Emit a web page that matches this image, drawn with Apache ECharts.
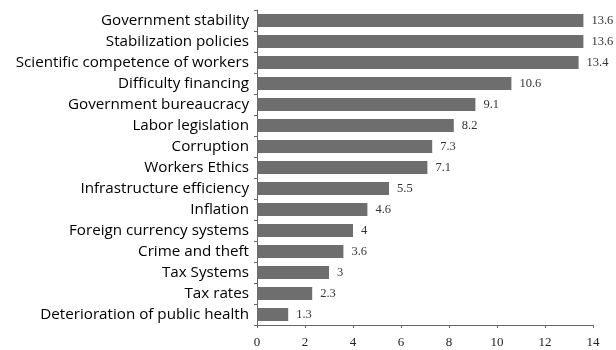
<!DOCTYPE html>
<html><head><meta charset="utf-8">
<script src="https://cdn.jsdelivr.net/npm/echarts@6/dist/echarts.min.js"></script>
<style>html,body{margin:0;padding:0;background:#fff}#c{width:616px;height:350px}</style>
</head><body><div id="c"></div>
<script>
const categories = ["Government stability","Stabilization policies","Scientific competence of workers","Difficulty financing","Government bureaucracy","Labor legislation","Corruption","Workers Ethics","Infrastructure efficiency","Inflation","Foreign currency systems","Crime and theft","Tax Systems","Tax rates","Deterioration of public health"];
const values = [13.6,13.6,13.4,10.6,9.1,8.2,7.3,7.1,5.5,4.6,4,3.6,3,2.3,1.3];
const xTicks = [0,2,4,6,8,10,12,14];

const chart = echarts.init(document.getElementById('c'));
chart.setOption({
  animation:false,
  grid:{left:257,right:23,top:10,bottom:25,containLabel:false},
  xAxis:{type:'value',min:0,max:14,interval:2,
    axisLine:{show:true,lineStyle:{color:'#666',width:1}},
    axisTick:{show:true,length:3,lineStyle:{color:'#666'}},
    splitLine:{show:false},
    axisLabel:{color:'#222',fontFamily:'Liberation Serif',fontSize:13,margin:11,
      formatter:v=>xTicks.includes(v)?String(v):''}},
  yAxis:{type:'category',data:categories,inverse:true,
    axisLine:{show:true,lineStyle:{color:'#666',width:1}},
    axisTick:{show:true,length:3,alignWithLabel:false,lineStyle:{color:'#666'}},
    axisLabel:{color:'#000',fontFamily:'Open Sans',fontSize:15.2,margin:8}},
  series:[{type:'bar',data:values,barWidth:13,
    itemStyle:{color:'#6e6e6e'},
    label:{show:true,position:'right',distance:8,color:'#333',fontFamily:'Liberation Serif',fontSize:12.5}}]
});
</script></body></html>
